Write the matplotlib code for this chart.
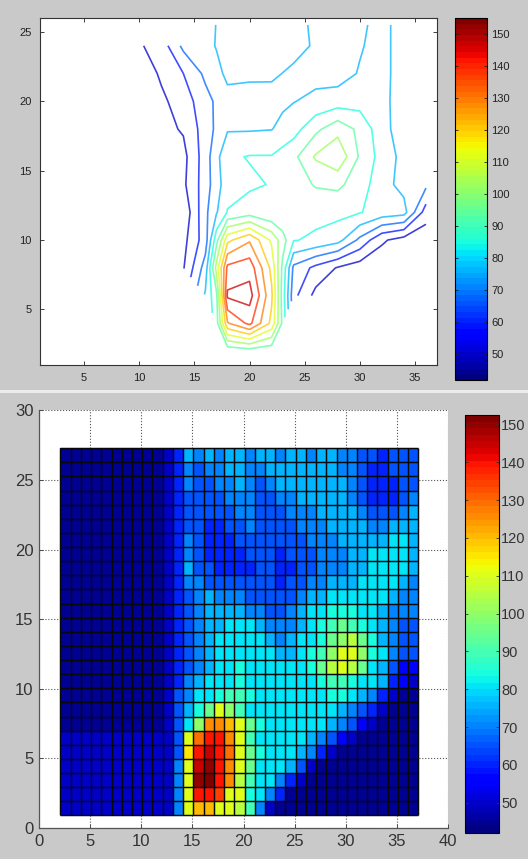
import numpy as np
import matplotlib
matplotlib.use('Agg')
import matplotlib.pyplot as plt
from matplotlib.colors import Normalize
from matplotlib.cm import ScalarMappable
from matplotlib.lines import Line2D

plt.rcParams['font.family'] = ['Liberation Sans', 'DejaVu Sans']

nan = np.nan
# ---------------- top panel: contour data (coarse grid) ----------------
top_x = [10, 12, 14, 16, 17, 18, 20, 22, 23, 24, 26, 28, 30, 32, 34, 36]
top_y = [2, 4, 6, 8, 10, 12, 14, 16, 18, 20, 22, 24, 25.5]
top_z = [
    [nan, nan, nan, nan, 86, 88, 90, 88, 86, nan, nan, nan, nan, nan, nan, nan],
    [nan, nan, nan, nan, 90, 128, 140, 118, 92, nan, nan, nan, nan, nan, nan, nan],
    [nan, nan, nan, 78, 92, 148, 150, 122, 90, 62, 48, 45, 44, 44, 44, 44],
    [nan, nan, 50, 72, 106, 140, 143, 118, 92, 66, 57, 50, 46, 45, 44, 44],
    [44, 45, 48, 64, 91, 118, 128, 110, 98, 86, 84, 80, 66, 52, 47, 45],
    [44, 45, 44, 66, 76, 86, 90, 86, 86, 86, 88, 88, 86, 82, 80, 55],
    [44, 45, 49, 64, 73, 82, 84, 86, 88, 90, 95, 96, 90, 80, 74, 70],
    [44, 46, 48, 64, 74, 84, 86, 86, 89, 92, 104, 110, 93, 82, 74, 70],
    [45, 48, 51.6, 63.6, 69.8, 76, 76, 76.5, 79.2, 82, 92, 100, 92, 80, 72, 70],
    [45, 49, 54.7, 65.1, 69.5, 74, 73, 74, 75.2, 76.5, 79, 81, 82, 79, 73, 70],
    [45, 52, 59.4, 70, 74.3, 78.7, 78.5, 78, 76.7, 75.5, 74, 73, 77.5, 80, 72, 70],
    [49.7, 54.7, 70.3, 74, 77.3, 80.6, 82, 82, 80.5, 79, 76, 73, 76, 80, 72, 70],
    [nan, nan, nan, 74, 77, 80, 81, 81, 80.5, 80, 75, 73, 75, 80, 72, 70],
]
top_levels = [50.7, 59.4, 68.1, 76.8, 85.5, 94.2, 102.9, 111.6, 120.3, 129.0, 137.7, 146.4]
top_clim = (42, 155)

# ---------------- bottom panel: pcolor cell values ----------------
# each character is a cell code: value = 40 + 5 * int(char, 36); rows listed top -> bottom
bot_rows = [
    "11111111112" + "4" + "76767767767767766554555",
    "11111111112" + "4" + "65667766777777766544555",
    "11111111112" + "4" + "65566765677777776544455",
    "11111111112" + "4" + "55556665566777776544456",
    "11111111112" + "4" + "55555665556667777655567",
    "11111111112" + "4" + "55445565555666777766777",
    "11111111112" + "4" + "65444555555566677777887",
    "11111111112" + "4" + "65444455545556667788887",
    "11111111112" + "4" + "75544445544556667788887",
    "11111111112" + "4" + "66555555545566777888876",
    "11111111112" + "4" + "56766655555677888888766",
    "11111111112" + "4" + "56777766556788999887666",
    "11111111112" + "4" + "56778887666789aba987655",
    "11111111112" + "4" + "56788888767889bcdb97655",
    "11111111112" + "4" + "5678888887789aceec98655",
    "11111111112" + "4" + "5678898888889bdedb87533",
    "11111111112" + "4" + "67888988888889aa9887432",
    "11111111112" + "5" + "6889aa98888888998764211",
    "11111111112" + "5" + "79beca88888888876542111",
    "11111111112" + "5" + "8chhgeb9888888765321111",
    "22222222222" + "5" + "eikkhea8888876532111111",
    "22222222222" + "5" + "fklkieb9888764211111111",
    "22222222222" + "6" + "elmkheb8887521111111111",
    "22222222222" + "6" + "emnkhda8864211111111111",
    "22222222222" + "6" + "ekkjee98641111111111111",
    "22222222222" + "6" + "eggeeda6211111111111111",
]
bot_code_base = 40
bot_code_step = 5
bot_x_edges = np.arange(2.1, 37.15, 1.0)
bot_y_edges = 0.9 + 1.015 * np.arange(27)
bot_clim = (42, 152.5)

cbar_ticks = [50, 60, 70, 80, 90, 100, 110, 120, 130, 140, 150]

# ---------------- figure ----------------
W, H = 528, 859
fig = plt.figure(figsize=(W / 100, H / 100), dpi=100, facecolor='#c9c9c9')
cmap = plt.get_cmap('jet', 64)

def box(l, t, r, b):
    return [l / W, 1 - b / H, (r - l) / W, (b - t) / H]

# separator between the two screenshots
fig.add_artist(Line2D([0, 1], [1 - 390.5 / H] * 2, transform=fig.transFigure,
                      color='#ececec', lw=2.2))

# ---- top contour axes ----
ax1 = fig.add_axes(box(40, 18, 437, 365))
Z1 = np.ma.masked_invalid(np.array(top_z, dtype=float))
norm1 = Normalize(*top_clim)
ax1.contour(top_x, top_y, Z1, levels=top_levels, cmap=cmap, norm=norm1,
            linewidths=1.2, alpha=0.75)
ax1.set_xlim(1, 37)
ax1.set_ylim(1, 26)
ax1.set_xticks([5, 10, 15, 20, 25, 30, 35])
ax1.set_yticks([5, 10, 15, 20, 25])
ax1.tick_params(direction='in', top=True, right=True, length=3, width=0.6,
                labelsize=8, colors='#222222', pad=6)
for s in ax1.spines.values():
    s.set_linewidth(0.8)
    s.set_color('#333333')

cax1 = fig.add_axes(box(455, 18, 487, 380))
cb1 = fig.colorbar(ScalarMappable(norm=norm1, cmap=cmap), cax=cax1, ticks=cbar_ticks)
cb1.outline.set_linewidth(0.8)
cax1.tick_params(direction='in', left=True, right=True, length=2.5, width=0.6,
                 labelsize=8, colors='#222222', pad=3)

# ---- bottom pcolor axes ----
ax2 = fig.add_axes(box(39, 410.5, 448, 828))
vals = np.array([[bot_code_base + bot_code_step * int(c, 36) for c in row] for row in bot_rows],
                dtype=float)[::-1]
norm2 = Normalize(*bot_clim)
ax2.pcolormesh(bot_x_edges, bot_y_edges, vals, cmap=cmap, norm=norm2,
               edgecolors='none', antialiased=False, zorder=2)
# black cell borders, as in MATLAB's pcolor faceted shading
ax2.vlines(bot_x_edges, bot_y_edges[0], bot_y_edges[-1], colors='#080808',
           linewidth=1.05, zorder=3)
ax2.hlines(bot_y_edges, bot_x_edges[0], bot_x_edges[-1], colors='#080808',
           linewidth=1.05, zorder=3)
ax2.set_xlim(0, 40)
ax2.set_ylim(0, 30)
ax2.set_xticks(range(0, 41, 5))
ax2.set_yticks(range(0, 31, 5))
ax2.grid(True, linestyle=':', color='#555555', linewidth=0.8, zorder=0)
ax2.set_axisbelow(True)
for side in ('top', 'right'):
    ax2.spines[side].set_visible(False)
for side in ('left', 'bottom'):
    ax2.spines[side].set_color('#555555')
    ax2.spines[side].set_linewidth(0.9)
ax2.tick_params(direction='in', length=3, width=0.6, labelsize=12, colors='#333333', pad=4)

cax2 = fig.add_axes(box(465, 415, 499, 833))
cb2 = fig.colorbar(ScalarMappable(norm=norm2, cmap=cmap), cax=cax2, ticks=cbar_ticks)
cb2.outline.set_linewidth(0.8)
cax2.tick_params(direction='in', left=True, right=True, length=2.5, width=0.6,
                 labelsize=10.5, colors='#333333', pad=1.5)

fig.savefig('out.png', dpi=100, facecolor=fig.get_facecolor())
